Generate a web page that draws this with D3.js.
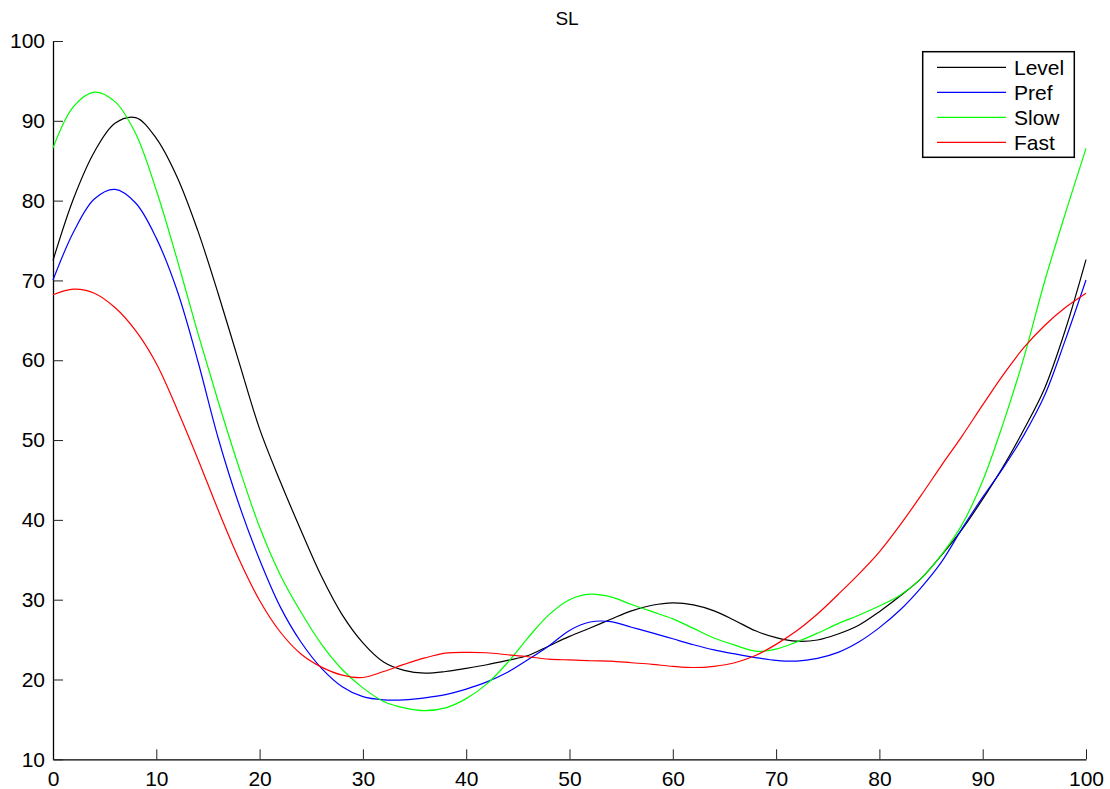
<!DOCTYPE html>
<html>
<head>
<meta charset="utf-8">
<script src="https://cdn.jsdelivr.net/npm/d3@7"></script>
<style>
  body { margin: 0; background: #fff; }
  svg { display: block; }
  text { font-family: "Liberation Sans", Arial, sans-serif; fill: #000; }
</style>
</head>
<body>
<script>
var width = 1110, height = 789;

// x positions (percent of cycle), sampled every 2
var x_vals = d3.range(0, 101, 2);

var level = [72.5, 80.3, 86.1, 89.7, 90.4, 87.8, 83.0, 76.3, 68.3, 59.8,
  51.4, 44.8, 38.7, 32.9, 28.1, 24.6, 22.2, 21.15, 20.8, 21.0,
  21.4, 21.85, 22.4, 23.0, 24.2, 25.4, 26.45, 27.55, 28.6, 29.3,
  29.6, 29.35, 28.6, 27.4, 26.1, 25.25, 24.8, 24.95, 25.7, 26.8,
  28.5, 30.45, 32.6, 35.55, 38.8, 42.6, 46.7, 51.35, 56.5, 63.8, 72.6];

var pref = [70.05, 76.1, 80.2, 81.4, 79.7, 75.3, 68.8, 60.0, 50.2, 41.95,
  35.0, 29.1, 24.7, 21.4, 19.1, 17.85, 17.45, 17.45, 17.7, 18.1,
  18.8, 19.7, 20.9, 22.5, 24.2, 26.15, 27.2, 27.25, 26.55, 25.85,
  25.1, 24.35, 23.7, 23.2, 22.75, 22.4, 22.3, 22.65, 23.4, 24.7,
  26.5, 28.7, 31.45, 34.7, 38.9, 42.85, 46.55, 50.65, 55.6, 62.55, 70.05];

var slow = [86.6, 91.8, 93.6, 92.4, 88.4, 81.3, 72.7, 63.5, 54.8, 46.6,
  39.1, 33.1, 28.45, 24.4, 21.25, 18.95, 17.25, 16.45, 16.1, 16.45,
  17.6, 19.45, 22.1, 25.25, 28.1, 30.0, 30.7, 30.35, 29.4, 28.5,
  27.6, 26.4, 25.2, 24.3, 23.55, 23.8, 24.7, 25.8, 27.0, 28.05,
  29.2, 30.55, 32.6, 35.6, 39.4, 44.9, 52.15, 60.4, 69.9, 78.4, 86.55];

var fast = [68.2, 68.9, 68.4, 66.6, 63.7, 59.6, 53.9, 47.7, 41.2, 35.1,
  29.9, 25.95, 23.2, 21.55, 20.55, 20.25, 21.0, 21.9, 22.7, 23.3,
  23.4, 23.35, 23.1, 22.85, 22.55, 22.45, 22.35, 22.3, 22.1, 21.9,
  21.65, 21.5, 21.65, 22.1, 23.0, 24.4, 26.1, 28.2, 30.65, 33.2,
  36.0, 39.35, 43.0, 46.8, 50.5, 54.4, 58.2, 61.6, 64.35, 66.6, 68.4];

var series_names = ["Level", "Pref", "Slow", "Fast"];
var series_colors = ["#000000", "#0000ff", "#00ff00", "#ff0000"];
var series_data = [level, pref, slow, fast];

var x_ticks = [0, 10, 20, 30, 40, 50, 60, 70, 80, 90, 100];
var y_ticks = [10, 20, 30, 40, 50, 60, 70, 80, 90, 100];

var svg = d3.select("body").append("svg")
  .attr("width", width)
  .attr("height", height);

var x = d3.scaleLinear().domain([0, 100]).range([53, 1086]);
var y = d3.scaleLinear().domain([10, 100]).range([759.3, 41]);

// title
svg.append("text")
  .attr("x", 567)
  .attr("y", 25)
  .attr("text-anchor", "middle")
  .style("font-size", "19px")
  .text("SL");

// axes, ticks pointing inward
var x_axis = d3.axisBottom(x).tickValues(x_ticks).tickSizeInner(-10).tickSizeOuter(0).tickPadding(12);
var y_axis = d3.axisLeft(y).tickValues(y_ticks).tickSizeInner(-10).tickSizeOuter(0).tickPadding(8);

var gx = svg.append("g")
  .attr("transform", "translate(0," + y(10) + ")")
  .call(x_axis);
var gy = svg.append("g")
  .attr("transform", "translate(" + x(0) + ",0)")
  .call(y_axis);

[gx, gy].forEach(function(g) {
  g.select(".domain").attr("stroke", "#000").attr("stroke-width", 1.3);
  g.selectAll(".tick line").attr("stroke", "#222");
  g.selectAll(".tick text").attr("font-size", "21px").attr("font-family", "Liberation Sans, Arial, sans-serif").attr("fill", "#000");
});

// curves
var line = d3.line()
  .x(function(d, i) { return x(x_vals[i]); })
  .y(function(d) { return y(d); })
  .curve(d3.curveCatmullRom.alpha(0.5));

series_data.forEach(function(s, k) {
  svg.append("path")
    .datum(s)
    .attr("fill", "none")
    .attr("stroke", series_colors[k])
    .attr("stroke-width", 1.2)
    .attr("d", line);
});

// legend
var legend = svg.append("g");
legend.append("rect")
  .attr("x", 922.7)
  .attr("y", 51.7)
  .attr("width", 151.6)
  .attr("height", 105.6)
  .attr("fill", "#fff")
  .attr("stroke", "#000")
  .attr("stroke-width", 1.5);

series_names.forEach(function(name, i) {
  var ly = 67.4 + i * 25;
  legend.append("line")
    .attr("x1", 937)
    .attr("x2", 1006)
    .attr("y1", ly)
    .attr("y2", ly)
    .attr("stroke", series_colors[i])
    .attr("stroke-width", 1.2);
  legend.append("text")
    .attr("x", 1014)
    .attr("y", ly)
    .attr("dy", "0.36em")
    .attr("font-size", "21px")
    .text(name);
});
</script>
</body>
</html>
